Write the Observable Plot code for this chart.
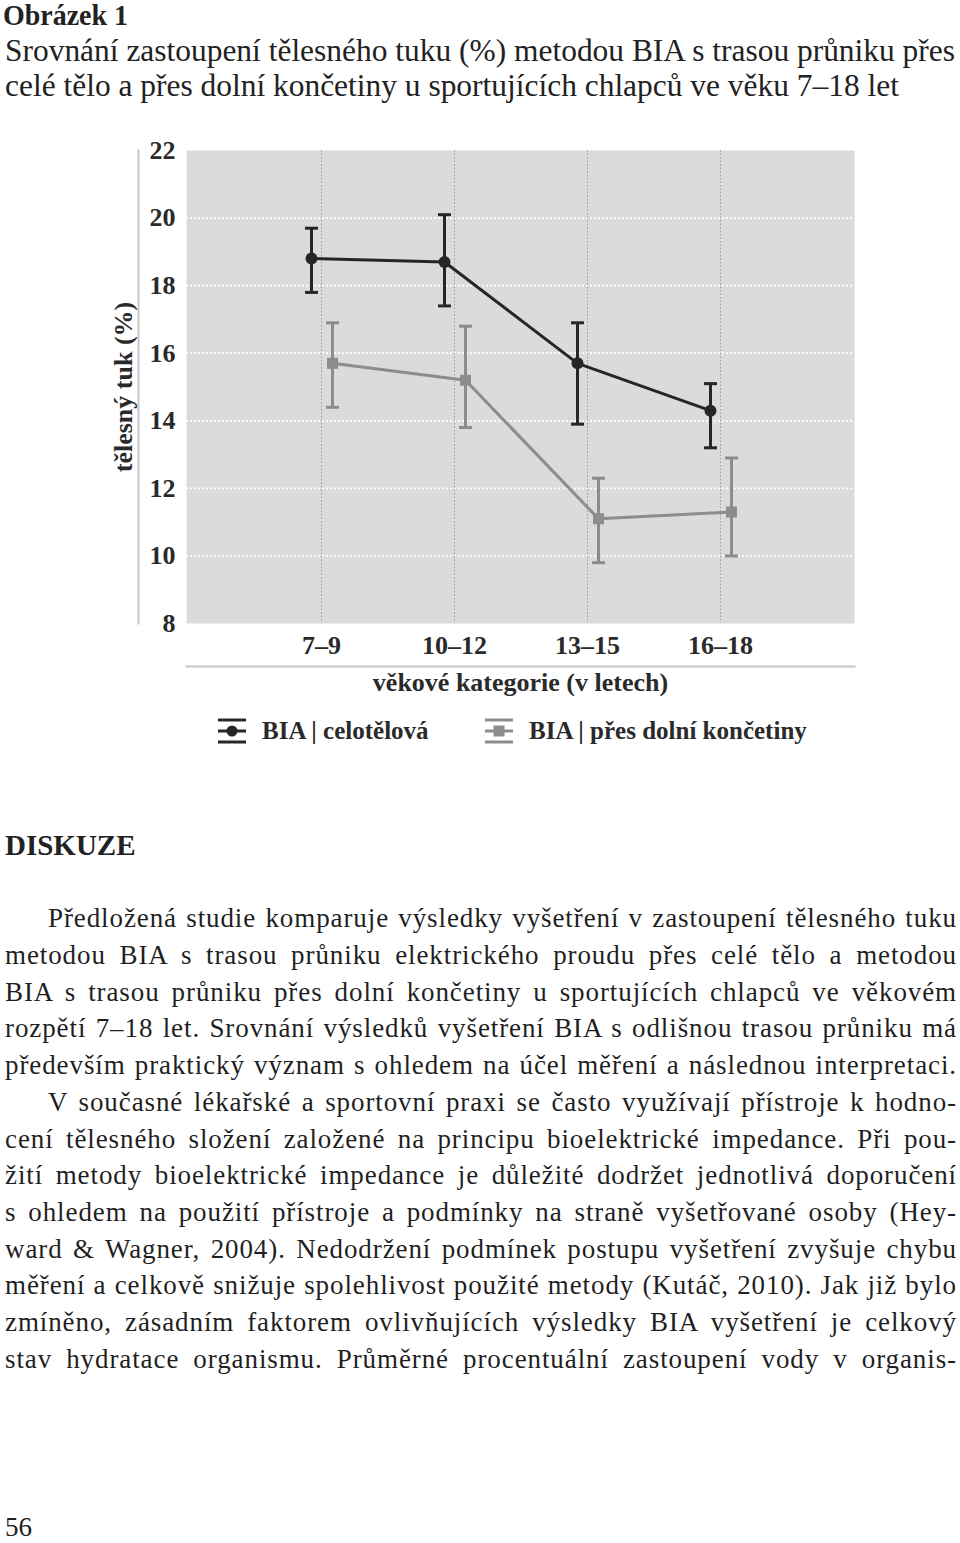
<!DOCTYPE html>
<html><head><meta charset="utf-8">
<script src="https://cdn.jsdelivr.net/npm/d3@7"></script>
<script src="https://cdn.jsdelivr.net/npm/@observablehq/plot@0.6"></script>
<style>
html,body{margin:0;padding:0;background:#fff;}
body{width:960px;height:1543px;position:relative;overflow:hidden;font-family:"Liberation Serif","Times New Roman",serif;color:#222;}
.abs{position:absolute;white-space:nowrap;line-height:1;}
#chart{position:absolute;left:0;top:120px;}
.leg{position:absolute;top:718px;height:26px;display:flex;align-items:center;font-weight:bold;font-size:25px;color:#2a2a2a;white-space:nowrap;}
.leg svg{margin-right:16px;}
</style></head><body>
<div id="title" class="abs" style="left:3px;font-weight:bold;font-size:29px;transform-origin:0 0;">Obrázek 1</div>
<div id="sub1" class="abs" style="left:5px;font-size:32px;transform-origin:0 0;">Srovnání zastoupení tělesného tuku (%) metodou BIA s trasou průniku přes</div>
<div id="sub2" class="abs" style="left:5px;font-size:32px;transform-origin:0 0;">celé tělo a přes dolní končetiny u sportujících chlapců ve věku 7–18 let</div>
<div id="chart"></div>
<div class="leg" style="left:218px;">
  <svg width="28" height="26"><line x1="0" x2="28" y1="2" y2="2" stroke="#262626" stroke-width="3"/><line x1="0" x2="28" y1="13" y2="13" stroke="#262626" stroke-width="3"/><line x1="0" x2="28" y1="24" y2="24" stroke="#262626" stroke-width="3"/><circle cx="14" cy="13" r="5.5" fill="#262626"/></svg>
  <span id="leg1"></span>
</div>
<div class="leg" style="left:485px;">
  <svg width="28" height="26"><line x1="0" x2="28" y1="2" y2="2" stroke="#8c8c8c" stroke-width="3"/><line x1="0" x2="28" y1="13" y2="13" stroke="#8c8c8c" stroke-width="3"/><line x1="0" x2="28" y1="24" y2="24" stroke="#8c8c8c" stroke-width="3"/><rect x="8.5" y="7.5" width="11" height="11" fill="#8c8c8c"/></svg>
  <span id="leg2"></span>
</div>
<div id="disk" class="abs" style="left:5px;font-weight:bold;font-size:29px;">DISKUZE</div>
<div id="body"></div>
<div id="pg" class="abs" style="left:5px;font-size:27px;">56</div>
<script>
// ---- chart data ----
const categories = ["7–9", "10–12", "13–15", "16–18"];
const celoMean = [18.8, 18.7, 15.7, 14.3];
const celoLow  = [17.8, 17.4, 13.9, 13.2];
const celoHigh = [19.7, 20.1, 16.9, 15.1];
const dolniMean = [15.7, 15.2, 11.1, 11.3];
const dolniLow  = [14.4, 13.8, 9.8, 10.0];
const dolniHigh = [16.9, 16.8, 12.3, 12.9];
const yTicks = [8, 10, 12, 14, 16, 18, 20, 22];
const gridTicks = [10, 12, 14, 16, 18, 20];
const seriesNames = ["BIA | celotělová", "BIA | přes dolní končetiny"];
const xLabel = "věkové kategorie (v letech)";
const yLabel = "tělesný tuk (%)";

// ---- page text ----
const bodyLines = [
  "Předložená studie komparuje výsledky vyšetření v zastoupení tělesného tuku",
  "metodou BIA s trasou průniku elektrického proudu přes celé tělo a metodou",
  "BIA s trasou průniku přes dolní končetiny u sportujících chlapců ve věkovém",
  "rozpětí 7–18 let. Srovnání výsledků vyšetření BIA s odlišnou trasou průniku má",
  "především praktický význam s ohledem na účel měření a následnou interpretaci.",
  "V současné lékařské a sportovní praxi se často využívají přístroje k hodno-",
  "cení tělesného složení založené na principu bioelektrické impedance. Při pou-",
  "žití metody bioelektrické impedance je důležité dodržet jednotlivá doporučení",
  "s ohledem na použití přístroje a podmínky na straně vyšetřované osoby (Hey-",
  "ward & Wagner, 2004). Nedodržení podmínek postupu vyšetření zvyšuje chybu",
  "měření a celkově snižuje spolehlivost použité metody (Kutáč, 2010). Jak již bylo",
  "zmíněno, zásadním faktorem ovlivňujících výsledky BIA vyšetření je celkový",
  "stav hydratace organismu. Průměrné procentuální zastoupení vody v organis-"
];
const indented = [0, 5];

const celo = categories.map((c, i) => ({cat: c, mean: celoMean[i], low: celoLow[i], high: celoHigh[i]}));
const dolni = categories.map((c, i) => ({cat: c, mean: dolniMean[i], low: dolniLow[i], high: dolniHigh[i]}));

const capSymbol = {draw(ctx, size) { const r = Math.sqrt(size / Math.PI); ctx.moveTo(-r, 0); ctx.lineTo(r, 0); }};
const BLACK = "#262626", GRAY = "#8c8c8c";

function series(data, color, dx, sym, r) {
  return [
    Plot.ruleX(data, {x: "cat", y1: "low", y2: "high", dx, stroke: color, strokeWidth: 3}),
    Plot.dot(data, {x: "cat", y: "low", dx, symbol: capSymbol, r: 6.5, fill: "none", stroke: color, strokeWidth: 3}),
    Plot.dot(data, {x: "cat", y: "high", dx, symbol: capSymbol, r: 6.5, fill: "none", stroke: color, strokeWidth: 3}),
    Plot.line(data, {x: "cat", y: "mean", dx, stroke: color, strokeWidth: 3}),
    Plot.dot(data, {x: "cat", y: "mean", dx, symbol: sym, r, fill: color, stroke: "none"})
  ];
}

const chart = Plot.plot({
  width: 960, height: 580,
  marginTop: 30, marginBottom: 77, marginLeft: 186, marginRight: 106,
  style: {fontFamily: '"Liberation Serif", serif', fontWeight: "bold", color: "#2a2a2a", background: "transparent", overflow: "visible"},
  x: {type: "point", domain: categories, padding: 1},
  y: {domain: [8, 22]},
  marks: [
    Plot.frame({fill: "#dadbdd", stroke: "none"}),
    Plot.gridY(gridTicks, {stroke: "#ffffff", strokeOpacity: 1, strokeWidth: 1.8, strokeDasharray: "2,2"}),
    Plot.gridX(categories, {stroke: "#9a9a9a", strokeOpacity: 1, strokeWidth: 1, strokeDasharray: "1.5,2"}),
    Plot.frame({anchor: "left", dx: -48, stroke: "#c6c6c6", strokeWidth: 2}),
    Plot.frame({anchor: "bottom", dy: 43, stroke: "#c6c6c6", strokeWidth: 2}),
    Plot.axisY(yTicks, {tickSize: 0, tickPadding: 11, fontSize: 26, fontWeight: "bold", label: null}),
    Plot.axisX(categories, {tickSize: 0, tickPadding: 12, fontSize: 26, fontWeight: "bold", label: null}),
    Plot.text([yLabel], {text: d => d, frameAnchor: "left", dx: -63, rotate: -90, textAnchor: "middle", lineAnchor: "middle", fontSize: 26, fontWeight: "bold"}),
    Plot.text([xLabel], {text: d => d, frameAnchor: "bottom", dy: 59, textAnchor: "middle", lineAnchor: "middle", fontSize: 26, fontWeight: "bold"}),
    ...series(dolni, GRAY, 11, "square", 6.2),
    ...series(celo, BLACK, -10, "circle", 6)
  ]
});
document.getElementById("chart").appendChild(chart);
document.getElementById("leg1").textContent = seriesNames[0];
document.getElementById("leg2").textContent = seriesNames[1];

// ---- text layout (baseline placement) ----
function placeBaseline(el, baseline, fs) { el.style.top = (baseline - 0.8375 * fs) + "px"; }
const tt = document.getElementById("title");
placeBaseline(tt, 25, 29);
tt.style.transform = `scaleX(${125 / tt.getBoundingClientRect().width})`;
const s1 = document.getElementById("sub1"), s2 = document.getElementById("sub2");
placeBaseline(s1, 61, 32); placeBaseline(s2, 96, 32);
const k = 950 / s1.getBoundingClientRect().width;
s1.style.transform = `scaleX(${k})`; s2.style.transform = `scaleX(${k})`;
placeBaseline(document.getElementById("disk"), 855, 29);
placeBaseline(document.getElementById("pg"), 1537, 27);

const body = document.getElementById("body");
const FS = 27, RIGHT = 957;
const els = bodyLines.map((t, i) => {
  const d = document.createElement("div");
  d.className = "abs";
  d.style.fontSize = FS + "px";
  d.style.color = "#1f1f1f";
  const left = indented.includes(i) ? 48 : 5;
  d.style.left = left + "px";
  d.textContent = t;
  body.appendChild(d);
  placeBaseline(d, 928 + i * 36.7, FS);
  return {d, t, left};
});
// common letter spacing from the tightest line, then justify with word spacing
let L = Infinity;
els.forEach(({d, t, left}) => { L = Math.min(L, (RIGHT - left - 6 - d.getBoundingClientRect().width) / t.length); });
L = Math.max(0, L);
els.forEach(({d, t, left}) => {
  d.style.letterSpacing = L + "px";
  const w = d.getBoundingClientRect().width;
  const spaces = (t.match(/ /g) || []).length;
  d.style.wordSpacing = ((RIGHT - left - w) / spaces) + "px";
});
</script>
</body></html>
